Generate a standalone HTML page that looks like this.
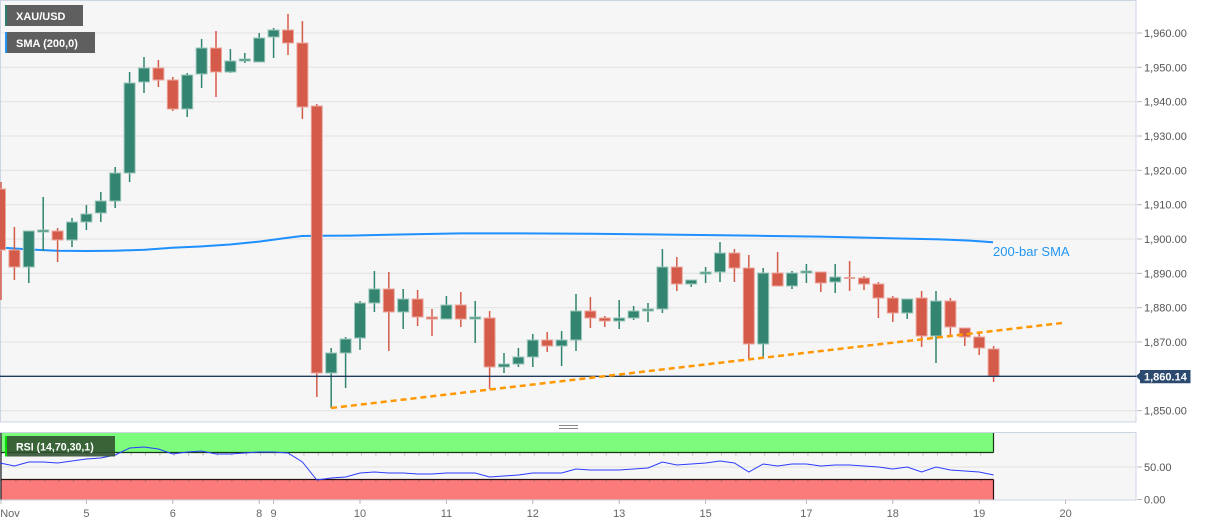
<!DOCTYPE html>
<html><head><meta charset="utf-8"><style>
html,body{margin:0;padding:0;background:#fff;width:1207px;height:526px;overflow:hidden}
svg{display:block}
text{font-family:"Liberation Sans",Arial,sans-serif}
</style></head><body>
<svg width="1207" height="526" viewBox="0 0 1207 526" xmlns="http://www.w3.org/2000/svg">
<defs>
<clipPath id="mc"><rect x="0" y="0" width="1136" height="422"/></clipPath>
</defs>
<!-- main panel -->
<rect x="0.5" y="0.5" width="1135.5" height="421.5" fill="#f6f6f6" stroke="#cdd4e4" stroke-width="1"/>
<g stroke="#e1e1e1" stroke-width="1">
<line x1="1" y1="33" x2="1136" y2="33"/>
<line x1="1" y1="67.3" x2="1136" y2="67.3"/>
<line x1="1" y1="101.7" x2="1136" y2="101.7"/>
<line x1="1" y1="136" x2="1136" y2="136"/>
<line x1="1" y1="170.3" x2="1136" y2="170.3"/>
<line x1="1" y1="204.7" x2="1136" y2="204.7"/>
<line x1="1" y1="239" x2="1136" y2="239"/>
<line x1="1" y1="273.3" x2="1136" y2="273.3"/>
<line x1="1" y1="307.7" x2="1136" y2="307.7"/>
<line x1="1" y1="342" x2="1136" y2="342"/>
<line x1="1" y1="410.7" x2="1136" y2="410.7"/>
</g>
<g clip-path="url(#mc)">
<!-- SMA -->
<polyline fill="none" stroke="#1e90ff" stroke-width="2" points="0,247.5 30,249.5 57,250.7 86,251 115,250.7 145,249.8 172,247.8 200,246.5 230,244.5 260,241.5 288,237.8 302,236 320,235.8 350,235.6 400,234.5 460,233.4 520,233.4 590,233.7 650,234.4 700,235 760,235.8 820,236.6 880,238 940,239.4 970,240.6 993,242.3"/>
<!-- wicks -->
<path fill="none" stroke="#318470" stroke-width="1.5" d="M28.8 231V283 M43.2 197V251 M72 218V247 M86.4 205V230 M100.8 192V222 M115.2 167V208 M129.6 72V182 M144 57V93 M187.2 73V117 M201.6 39V88 M230.4 49V73 M244.8 53V63 M259.2 33V62 M273.6 28V58 M331.2 348V408 M345.6 337V388 M360 301V350 M374.4 271V312 M403.2 289V329 M446.4 296V319 M475.2 301V343 M504 353V373 M518.4 348V367 M532.8 334V367 M561.6 331V366 M576 294V351 M619.2 300V329 M633.6 306V320 M648 303V322 M662.4 249V313 M691.2 280V287 M705.6 267V283 M720 242V282 M763.2 268V358 M792 271V289 M806.4 264V283 M835.2 264V293 M907.2 299V319 M936 291V363"/>
<path fill="none" stroke="#d45a49" stroke-width="1.5" d="M1 182V300 M14.4 227V280 M57.6 228V262 M158.4 60V87 M172.8 77V111 M216 31V97 M288 14V55 M302.4 21V119 M316.8 104V397 M388.8 272V351 M417.6 290V326 M432 309V336 M460.8 292V327 M489.6 311V389 M547.2 332V352 M590.4 297V328 M604.8 316V327 M676.8 257V291 M734.4 249V282 M748.8 255V359 M777.6 252V286 M820.8 272V292 M849.6 261V291 M864 276V290 M878.4 282V318 M892.8 296V322 M921.6 291V347 M950.4 298V336 M964.8 328V346 M979.2 333V355 M993.6 346V382"/>
<!-- green bodies -->
<g fill="#338470" stroke="#9cc7bc" stroke-width="1">
<rect x="23.3" y="231" width="11" height="36"/>
<rect x="37.7" y="230" width="11" height="2"/>
<rect x="66.5" y="222" width="11" height="18"/>
<rect x="80.9" y="214" width="11" height="8"/>
<rect x="95.3" y="201" width="11" height="12"/>
<rect x="109.7" y="173" width="11" height="28"/>
<rect x="124.1" y="83" width="11" height="90"/>
<rect x="138.5" y="68" width="11" height="14"/>
<rect x="181.7" y="75" width="11" height="34"/>
<rect x="196.1" y="48" width="11" height="26"/>
<rect x="224.9" y="61" width="11" height="11"/>
<rect x="239.3" y="59" width="11" height="2"/>
<rect x="253.7" y="38" width="11" height="24"/>
<rect x="268.1" y="30" width="11" height="7"/>
<rect x="325.7" y="353" width="11" height="20"/>
<rect x="340.1" y="339" width="11" height="14"/>
<rect x="354.5" y="303" width="11" height="35"/>
<rect x="368.9" y="289" width="11" height="14"/>
<rect x="397.7" y="299" width="11" height="13"/>
<rect x="440.9" y="305" width="11" height="14"/>
<rect x="469.7" y="317" width="11" height="2"/>
<rect x="498.5" y="364" width="11" height="3"/>
<rect x="512.9" y="357" width="11" height="7"/>
<rect x="527.3" y="340" width="11" height="17"/>
<rect x="556.1" y="340" width="11" height="6"/>
<rect x="570.5" y="311" width="11" height="29"/>
<rect x="613.7" y="318" width="11" height="3"/>
<rect x="628.1" y="311" width="11" height="7"/>
<rect x="642.5" y="309" width="11" height="2"/>
<rect x="656.9" y="267" width="11" height="42"/>
<rect x="685.7" y="280" width="11" height="4"/>
<rect x="700.1" y="272" width="11" height="2"/>
<rect x="714.5" y="253" width="11" height="19"/>
<rect x="757.7" y="273" width="11" height="71"/>
<rect x="786.5" y="273" width="11" height="13"/>
<rect x="800.9" y="271" width="11" height="2"/>
<rect x="829.7" y="277" width="11" height="5"/>
<rect x="901.7" y="299" width="11" height="14"/>
<rect x="930.5" y="301" width="11" height="35"/>
</g>
<!-- red bodies -->
<g fill="#d45a49" stroke="#eba89f" stroke-width="1">
<rect x="-5.5" y="189" width="11" height="61"/>
<rect x="8.9" y="250" width="11" height="17"/>
<rect x="52.1" y="231" width="11" height="9"/>
<rect x="152.9" y="68" width="11" height="12"/>
<rect x="167.3" y="80" width="11" height="29"/>
<rect x="210.5" y="48" width="11" height="24"/>
<rect x="282.5" y="30" width="11" height="13"/>
<rect x="296.9" y="43" width="11" height="64"/>
<rect x="311.3" y="106" width="11" height="267"/>
<rect x="383.3" y="289" width="11" height="23"/>
<rect x="412.1" y="299" width="11" height="18"/>
<rect x="426.5" y="317" width="11" height="2"/>
<rect x="455.3" y="305" width="11" height="14"/>
<rect x="484.1" y="318" width="11" height="49"/>
<rect x="541.7" y="340" width="11" height="6"/>
<rect x="584.9" y="311" width="11" height="7"/>
<rect x="599.3" y="318" width="11" height="3"/>
<rect x="671.3" y="267" width="11" height="17"/>
<rect x="728.9" y="253" width="11" height="15"/>
<rect x="743.3" y="268" width="11" height="76"/>
<rect x="772.1" y="273" width="11" height="13"/>
<rect x="815.3" y="272" width="11" height="11"/>
<rect x="858.5" y="278" width="11" height="6"/>
<rect x="872.9" y="284" width="11" height="14"/>
<rect x="887.3" y="298" width="11" height="15"/>
<rect x="916.1" y="298" width="11" height="38"/>
<rect x="944.9" y="301" width="11" height="26"/>
<rect x="959.3" y="328" width="11" height="9"/>
<rect x="973.7" y="337" width="11" height="11"/>
<rect x="988.1" y="349" width="11" height="27"/>
</g>
<rect x="844.1" y="277" width="11" height="2" fill="#e9a39b"/>
<!-- price line -->
<line x1="0" y1="376.3" x2="1136" y2="376.3" stroke="#1f3a5f" stroke-width="1.4"/>
<!-- trend line -->
<line x1="331" y1="408" x2="1062" y2="323" stroke="#ff9800" stroke-width="2.5" stroke-dasharray="6 4"/>
</g>
<text x="993" y="256" font-size="13" fill="#2196f3">200-bar SMA</text>
<!-- legends -->
<rect x="5" y="5" width="78" height="21" fill="#5f5f5f"/>
<rect x="5" y="5" width="2" height="21" fill="#2e7d6a"/>
<text x="16" y="20" font-size="11" font-weight="bold" fill="#fff">XAU/USD</text>
<rect x="5" y="32" width="90" height="21" fill="#5f5f5f"/>
<rect x="5" y="32" width="2" height="21" fill="#2196f3"/>
<text x="16" y="47" font-size="11" font-weight="bold" fill="#fff">SMA (200,0)</text>
<!-- right axis -->
<g stroke="#b8b8b8" stroke-width="1">
<line x1="1137" y1="33" x2="1142" y2="33"/>
<line x1="1137" y1="67.3" x2="1142" y2="67.3"/>
<line x1="1137" y1="101.7" x2="1142" y2="101.7"/>
<line x1="1137" y1="136" x2="1142" y2="136"/>
<line x1="1137" y1="170.3" x2="1142" y2="170.3"/>
<line x1="1137" y1="204.7" x2="1142" y2="204.7"/>
<line x1="1137" y1="239" x2="1142" y2="239"/>
<line x1="1137" y1="273.3" x2="1142" y2="273.3"/>
<line x1="1137" y1="307.7" x2="1142" y2="307.7"/>
<line x1="1137" y1="342" x2="1142" y2="342"/>
<line x1="1137" y1="410.7" x2="1142" y2="410.7"/>
<line x1="1137" y1="467" x2="1142" y2="467"/>
<line x1="1137" y1="499.5" x2="1142" y2="499.5"/>
</g>
<g font-size="11" fill="#555">
<text x="1144" y="37">1,960.00</text>
<text x="1144" y="71.3">1,950.00</text>
<text x="1144" y="105.7">1,940.00</text>
<text x="1144" y="140">1,930.00</text>
<text x="1144" y="174.3">1,920.00</text>
<text x="1144" y="208.7">1,910.00</text>
<text x="1144" y="243">1,900.00</text>
<text x="1144" y="277.3">1,890.00</text>
<text x="1144" y="311.7">1,880.00</text>
<text x="1144" y="346">1,870.00</text>
<text x="1144" y="414.7">1,850.00</text>
<text x="1144" y="471">50.00</text>
<text x="1144" y="503.5">0.00</text>
</g>
<path d="M1136 376.3 L1140 372.5 V370 H1190.5 V383.3 H1140 V380.1 Z" fill="#2c4a70"/>
<text x="1144" y="380.5" font-size="11" font-weight="bold" fill="#fff">1,860.14</text>
<!-- splitter -->
<line x1="559" y1="425.5" x2="578" y2="425.5" stroke="#888" stroke-width="1"/>
<line x1="559" y1="428.5" x2="578" y2="428.5" stroke="#888" stroke-width="1"/>
<!-- RSI panel -->
<rect x="0.5" y="432.5" width="1135.5" height="67.5" fill="#f6f6f6" stroke="#cdd4e4" stroke-width="1"/>
<line x1="1" y1="467" x2="1136" y2="467" stroke="#e1e1e1" stroke-width="1"/>
<rect x="1" y="433" width="992" height="19.5" fill="#7dfb7d"/>
<rect x="1" y="479.5" width="992" height="20" fill="#fb7a7a"/>
<line x1="1" y1="452.5" x2="993.5" y2="452.5" stroke="#173517" stroke-width="1.2"/>
<line x1="1" y1="479.5" x2="993.5" y2="479.5" stroke="#2a1010" stroke-width="1.2"/>
<line x1="1" y1="454.5" x2="993" y2="454.5" stroke="#444" stroke-width="2" stroke-dasharray="1 13.4" opacity="0.35"/>
<line x1="1" y1="481" x2="993" y2="481" stroke="#444" stroke-width="2" stroke-dasharray="1 13.4" opacity="0.35"/>
<line x1="993.5" y1="433" x2="993.5" y2="452.5" stroke="#173517" stroke-width="1.2"/>
<line x1="993.5" y1="479.5" x2="993.5" y2="499.5" stroke="#2a1010" stroke-width="1.2"/>
<line x1="1" y1="433" x2="1" y2="499.5" stroke="#222" stroke-width="1.2"/>
<polyline fill="none" stroke="#2b3cff" stroke-width="1" points="0,463 14.4,466 28.8,462 43.2,462 57.6,463 72,461 86.4,459 100.8,458 115.2,455 129.6,448 144,447 158.4,449 172.8,454 187.2,452 201.6,451 216,454 230.4,454 244.8,453 259.2,452 273.6,452 288,453 302.4,462 316.8,480 331.2,478 345.6,477 360,473 374.4,472 388.8,473 403.2,473 417.6,474 432,474 446.4,473 460.8,473 475.2,473 489.6,477 504,476 518.4,475 532.8,473 547.2,473 561.6,473 576,469 590.4,470 604.8,470 619.2,470 633.6,469 648,468 662.4,462 676.8,465 691.2,464 705.6,463 720,461 734.4,463 748.8,472 763.2,464 777.6,466 792,464 806.4,464 820.8,466 835.2,465 849.6,465 864,466 878.4,467 892.8,469 907.2,467 921.6,472 936,467 950.4,470 964.8,471 979.2,472 993.6,475"/>
<rect x="5" y="436" width="110" height="20.5" fill="#2f4f2f" opacity="0.88"/>
<rect x="5" y="436" width="2" height="20.5" fill="#00e000"/>
<text x="16" y="450.5" font-size="10.6" font-weight="bold" fill="#fff">RSI (14,70,30,1)</text>
<!-- x axis -->
<g stroke="#b8b8b8" stroke-width="1">
<line x1="1" y1="500" x2="1" y2="504"/>
<line x1="86.4" y1="500" x2="86.4" y2="504"/>
<line x1="172.8" y1="500" x2="172.8" y2="504"/>
<line x1="259.2" y1="500" x2="259.2" y2="504"/>
<line x1="273.6" y1="500" x2="273.6" y2="504"/>
<line x1="360" y1="500" x2="360" y2="504"/>
<line x1="446.4" y1="500" x2="446.4" y2="504"/>
<line x1="532.8" y1="500" x2="532.8" y2="504"/>
<line x1="619.2" y1="500" x2="619.2" y2="504"/>
<line x1="705.6" y1="500" x2="705.6" y2="504"/>
<line x1="806.4" y1="500" x2="806.4" y2="504"/>
<line x1="892.8" y1="500" x2="892.8" y2="504"/>
<line x1="979.2" y1="500" x2="979.2" y2="504"/>
<line x1="1065.6" y1="500" x2="1065.6" y2="504"/>
</g>
<g font-size="11" fill="#666" text-anchor="middle">
<text x="10" y="517">Nov</text>
<text x="86.4" y="517">5</text>
<text x="172.8" y="517">6</text>
<text x="259.2" y="517">8</text>
<text x="273.6" y="517">9</text>
<text x="360" y="517">10</text>
<text x="446.4" y="517">11</text>
<text x="532.8" y="517">12</text>
<text x="619.2" y="517">13</text>
<text x="705.6" y="517">15</text>
<text x="806.4" y="517">17</text>
<text x="892.8" y="517">18</text>
<text x="979.2" y="517">19</text>
<text x="1065.6" y="517">20</text>
</g>
</svg>
</body></html>
